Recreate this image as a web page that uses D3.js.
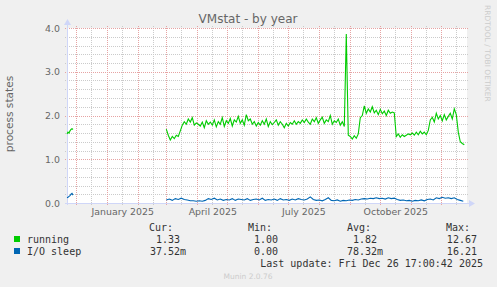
<!DOCTYPE html>
<html>
<head>
<meta charset="utf-8">
<script src="https://cdn.jsdelivr.net/npm/d3@7"></script>
<style>
	html, body { margin: 0; padding: 0; background: #f0f0f0; }
	svg { display: block; }
	text { font-family: 'DejaVu Sans', sans-serif; }
	.mono { font-family: 'DejaVu Sans Mono', monospace; white-space: pre; }
	.grid line { shape-rendering: crispEdges; }
</style>
</head>
<body>
<div id="chart"></div>
<script>
// graph window: munin "by year" shows the last 400 days
var endTime = new Date(2025, 11, 26, 17, 0, 42);
var spanDays = 400;

// early data, one value per day from this date
var earlyStart = new Date(2024, 10, 21, 17, 0);
var runningEarly = [1.58, 1.62, 1.60, 1.65, 1.68, 1.70, 1.68];
var ioSleepEarly = [0.12, 0.13, 0.15, 0.17, 0.20, 0.22, 0.18];

// later data, running every 2 days, I/O sleep every 3 days
var lateStart = new Date(2025, 2, 1);
var runningStep = 2;
var runningLate = [
	1.69, 1.55, 1.44, 1.52, 1.47, 1.55, 1.52, 1.65, 1.78, 1.86,
	1.80, 1.92, 1.85, 1.95, 1.78, 1.83, 1.80, 1.76, 1.85, 1.72,
	1.88, 1.80, 1.85, 1.78, 1.90, 1.74, 1.86, 1.80, 1.95, 1.75,
	1.88, 1.82, 1.93, 1.76, 1.90, 1.85, 1.98, 1.82, 1.90, 1.78,
	2.02, 1.88, 1.92, 1.80, 1.86, 1.76, 1.84, 1.78, 1.88, 1.80,
	1.92, 1.75, 1.86, 1.79, 1.84, 1.90, 1.78, 1.86, 1.80, 1.72,
	1.82, 1.76, 1.84, 1.80, 1.88, 1.80, 1.86, 1.82, 1.90, 1.84,
	1.92, 1.85, 1.80, 1.92, 1.86, 1.95, 1.82, 1.90, 1.96, 1.82,
	1.90, 1.86, 2.00, 1.80, 1.88, 1.84, 1.92, 1.78, 1.86, 1.75,
	3.86, 1.55, 1.52, 1.46, 1.54, 1.48, 1.58, 1.95, 2.00, 2.22,
	2.05, 2.15, 2.08, 2.20, 2.06, 2.12, 2.02, 2.14, 2.04, 2.10,
	2.00, 2.12, 2.05, 2.08, 2.06, 1.52, 1.58, 1.50, 1.56, 1.52,
	1.55, 1.58, 1.56, 1.60, 1.55, 1.62, 1.56, 1.64, 1.58, 1.62,
	1.56, 1.66, 1.90, 1.96, 1.85, 2.05, 1.92, 2.00, 1.88, 2.02,
	1.90, 1.98, 2.05, 1.92, 2.15, 2.02, 1.62, 1.40, 1.36, 1.33
];
var ioSleepStep = 3;
var ioSleepLate = [
	0.07, 0.09, 0.06, 0.10, 0.08, 0.11, 0.08, 0.07, 0.05, 0.05,
	0.04, 0.05, 0.04, 0.06, 0.10, 0.08, 0.11, 0.07, 0.09, 0.06,
	0.08, 0.07, 0.10, 0.06, 0.09, 0.08, 0.07, 0.10, 0.06, 0.08,
	0.09, 0.07, 0.11, 0.06, 0.08, 0.07, 0.09, 0.06, 0.10, 0.07,
	0.08, 0.06, 0.09, 0.07, 0.10, 0.08, 0.07, 0.09, 0.14, 0.08,
	0.06, 0.07, 0.05, 0.08, 0.12, 0.06, 0.05, 0.07, 0.04, 0.06,
	0.05, 0.07, 0.06, 0.08, 0.07, 0.09, 0.10, 0.09, 0.11, 0.10,
	0.12, 0.10, 0.11, 0.09, 0.12, 0.10, 0.11, 0.08, 0.06, 0.07,
	0.05, 0.06, 0.04, 0.06, 0.05, 0.07, 0.05, 0.08, 0.09, 0.07,
	0.12, 0.10, 0.13, 0.11, 0.12, 0.10, 0.12, 0.08, 0.06, 0.04
];

var yTicks = [0, 1, 2, 3, 4];
var xLabelMonths = [new Date(2025, 0, 1), new Date(2025, 3, 1), new Date(2025, 6, 1), new Date(2025, 9, 1)];

// legend
var seriesNames = ['running', 'I/O sleep'];
var seriesColors = ['#00cc00', '#0066b3'];
var legendCur = ['1.33', '37.52m'];
var legendMin = ['1.00', '0.00'];
var legendAvg = ['1.82', '78.32m'];
var legendMax = ['12.67', '16.21'];
var lastUpdate = 'Last update: Fri Dec 26 17:00:42 2025';

(function(window, d3){
	'use strict';

	var W = 497, H = 287;
	var X0 = 67, X1 = 467, Y0 = 203, Y1 = 28;
	var CH = 6.02; // mono char width at 10px

	var startTime = d3.timeDay.offset(endTime, -spanDays);
	var xScale = d3.scaleTime().domain([startTime, endTime]).range([X0, X1]);
	var yScale = d3.scaleLinear().domain([0, 4]).range([Y0, Y1]);

	var svg = d3.select('#chart').append('svg')
		.attr('width', W)
		.attr('height', H);

	svg.append('rect').attr('width', W).attr('height', H).attr('fill', '#f0f0f0');
	svg.append('rect')
		.attr('x', X0).attr('y', Y1)
		.attr('width', X1 - X0).attr('height', Y0 - Y1)
		.attr('fill', '#ffffff');

	drawGrid();
	drawAxes();
	drawSeries();
	drawText();
	drawLegend();

	function px(v){ return Math.round(v) + 0.5; }

	function drawGrid(){
		var g = svg.append('g').attr('class', 'grid');
		var minorY = d3.range(1, 20).filter(function(i){ return i % 5 !== 0; })
			.map(function(i){ return i * 0.2; });
		var months = d3.timeMonth.range(startTime, endTime);
		var minorX = months.map(function(m){ return d3.timeDay.offset(m, 15); })
			.filter(function(d){ return d < endTime; });
		var minorColor = '#cbcbcb', majorColor = '#e6a3a3';

		g.selectAll('line.minor-y').data(minorY).enter().append('line')
			.attr('x1', X0 - 2).attr('x2', X1 + 2)
			.attr('y1', function(d){ return px(yScale(d)); })
			.attr('y2', function(d){ return px(yScale(d)); })
			.attr('stroke', minorColor).attr('stroke-dasharray', '1,1');
		g.selectAll('line.minor-x').data(minorX).enter().append('line')
			.attr('y1', Y1 - 2).attr('y2', Y0 + 2)
			.attr('x1', function(d){ return px(xScale(d)); })
			.attr('x2', function(d){ return px(xScale(d)); })
			.attr('stroke', minorColor).attr('stroke-dasharray', '1,1');
		g.selectAll('line.major-y').data(yTicks).enter().append('line')
			.attr('x1', X0 - 2).attr('x2', X1 + 2)
			.attr('y1', function(d){ return px(yScale(d)); })
			.attr('y2', function(d){ return px(yScale(d)); })
			.attr('stroke', majorColor).attr('stroke-dasharray', '1,1');
		g.selectAll('line.major-x').data(months).enter().append('line')
			.attr('y1', Y1 - 2).attr('y2', Y0 + 2)
			.attr('x1', function(d){ return px(xScale(d)); })
			.attr('x2', function(d){ return px(xScale(d)); })
			.attr('stroke', majorColor).attr('stroke-dasharray', '1,1');
	}

	function drawAxes(){
		var axisColor = '#cfd6f8';
		var yAxis = d3.axisLeft(yScale)
			.tickValues(yTicks)
			.tickFormat(d3.format('.1f'))
			.tickSize(0)
			.tickPadding(7);
		var gy = svg.append('g').attr('transform', 'translate(' + X0 + ',0)').call(yAxis);
		gy.select('.domain').remove();
		gy.selectAll('text')
			.attr('fill', '#666666')
			.attr('font-size', '9.4px')
			.attr('font-family', 'DejaVu Sans, sans-serif');

		var xAxis = d3.axisBottom(xScale)
			.tickValues(xLabelMonths.map(function(m){ return d3.timeDay.offset(m, 15); }))
			.tickFormat(d3.timeFormat('%B %Y'))
			.tickSize(0);
		var gx = svg.append('g').attr('transform', 'translate(0,' + Y0 + ')').call(xAxis);
		gx.select('.domain').remove();
		gx.selectAll('text')
			.attr('y', 12).attr('dy', null)
			.attr('fill', '#666666')
			.attr('font-size', '9.4px')
			.attr('font-family', 'DejaVu Sans, sans-serif');

		// axis lines with arrows
		svg.append('line')
			.attr('x1', X0 + 0.5).attr('x2', X0 + 0.5)
			.attr('y1', Y0 + 2).attr('y2', Y1 - 6)
			.attr('stroke', axisColor);
		svg.append('line')
			.attr('x1', X0 - 2).attr('x2', X1 + 4)
			.attr('y1', Y0 + 0.5).attr('y2', Y0 + 0.5)
			.attr('stroke', axisColor);
		svg.append('path')
			.attr('d', 'M' + (X0 - 3) + ',' + (Y1 - 3) + 'L' + (X0 + 0.5) + ',' + (Y1 - 9) + 'L' + (X0 + 4) + ',' + (Y1 - 3) + 'Z')
			.attr('fill', axisColor);
		svg.append('path')
			.attr('d', 'M' + (X1 + 2) + ',' + (Y0 - 3) + 'L' + (X1 + 8) + ',' + (Y0 + 0.5) + 'L' + (X1 + 2) + ',' + (Y0 + 4) + 'Z')
			.attr('fill', axisColor);
	}

	function toPoints(start, values, step){
		return values.map(function(v, i){
			return { t: d3.timeDay.offset(start, i * step), v: v };
		});
	}

	function drawSeries(){
		var line = d3.line()
			.defined(function(d){ return d !== null; })
			.x(function(d){ return xScale(d.t); })
			.y(function(d){ return yScale(d.v); });

		var series = [
			toPoints(earlyStart, runningEarly, 1).concat([null], toPoints(lateStart, runningLate, runningStep)),
			toPoints(earlyStart, ioSleepEarly, 1).concat([null], toPoints(lateStart, ioSleepLate, ioSleepStep))
		];

		svg.selectAll('path.series').data(series).enter().append('path')
			.attr('class', 'series')
			.attr('d', line)
			.attr('fill', 'none')
			.attr('stroke', function(d, i){ return seriesColors[i]; })
			.attr('stroke-width', 1.1);
	}

	function drawText(){
		svg.append('text')
			.text('VMstat - by year')
			.attr('x', 248).attr('y', 23)
			.attr('text-anchor', 'middle')
			.attr('font-size', '12px')
			.attr('fill', '#666666');
		svg.append('text')
			.text('process states')
			.attr('transform', 'translate(13,114) rotate(-90)')
			.attr('text-anchor', 'middle')
			.attr('font-size', '10.6px')
			.attr('fill', '#666666');
		svg.append('text')
			.text('RRDTOOL / TOBI OETIKER')
			.attr('transform', 'translate(485,5) rotate(90)')
			.attr('font-size', '7.5px')
			.attr('fill', '#cccccc');
		svg.append('text')
			.text('Munin 2.0.76')
			.attr('x', 248).attr('y', 279)
			.attr('text-anchor', 'middle')
			.attr('font-size', '7.5px')
			.attr('fill', '#cccccc');
	}

	// value text right-aligned on the unit column, like rrdtool %6.2lf%s
	function valueX(colEnd, s){
		return /[a-zA-Z]$/.test(s) ? colEnd : colEnd - CH;
	}

	function drawLegend(){
		var g = svg.append('g').attr('class', 'legend mono')
			.attr('font-size', '10px')
			.attr('fill', '#333333');
		var headers = [['Cur:', 173], ['Min:', 272], ['Avg:', 371], ['Max:', 470]];
		var cols = [[legendCur, 186], [legendMin, 284], [legendAvg, 383], [legendMax, 483]];

		g.selectAll('text.head').data(headers).enter().append('text')
			.attr('class', 'mono')
			.attr('x', function(d){ return d[1]; })
			.attr('y', 231)
			.attr('text-anchor', 'end')
			.text(function(d){ return d[0]; });

		var rows = g.selectAll('g.row').data(seriesNames).enter().append('g')
			.attr('transform', function(d, i){ return 'translate(0,' + (243 + i * 12) + ')'; });
		rows.append('rect')
			.attr('x', 14).attr('y', -7)
			.attr('width', 6).attr('height', 6)
			.attr('fill', function(d, i){ return seriesColors[i]; });
		rows.append('text')
			.attr('class', 'mono')
			.attr('x', 27)
			.text(function(d){ return d; });
		cols.forEach(function(c){
			rows.append('text')
				.attr('class', 'mono')
				.attr('text-anchor', 'end')
				.attr('x', function(d, i){ return valueX(c[1], c[0][i]); })
				.text(function(d, i){ return c[0][i]; });
		});

		g.append('text')
			.attr('class', 'mono')
			.attr('x', 483).attr('y', 267)
			.attr('text-anchor', 'end')
			.text(lastUpdate);
	}

})(window, d3);
</script>
</body>
</html>
